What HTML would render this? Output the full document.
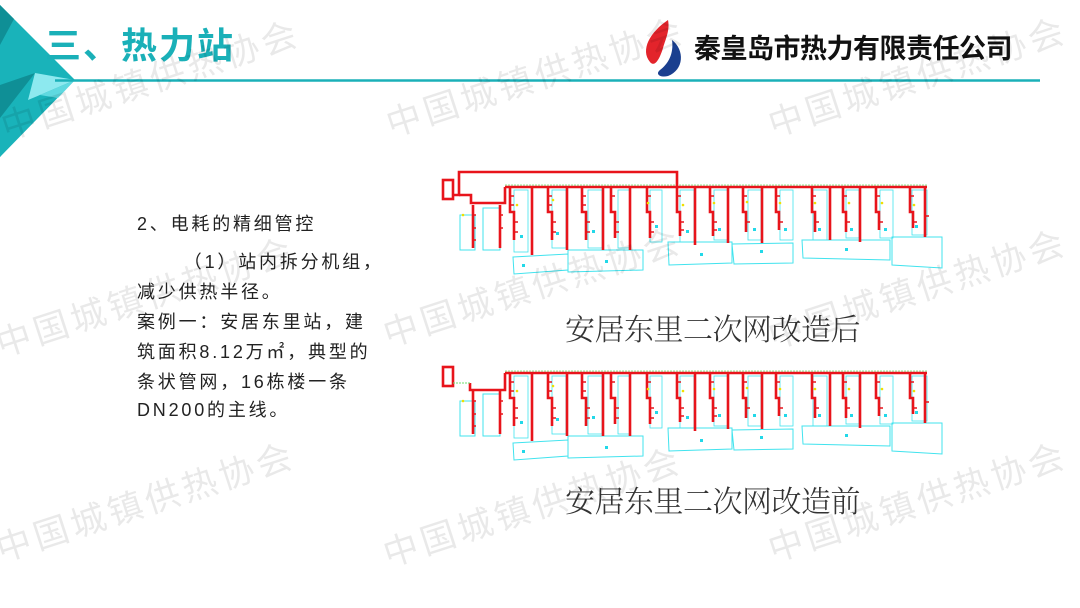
<!DOCTYPE html>
<html><head><meta charset="utf-8"><style>
body{margin:0;width:1080px;height:608px;overflow:hidden;background:#fff;position:relative;font-family:"Liberation Sans","Noto Sans CJK SC",sans-serif}
.wm{position:absolute;font-size:35px;color:rgba(0,0,0,0.085);white-space:nowrap;transform:translate(-50%,-50%) rotate(-18deg);letter-spacing:4px}
.t{position:absolute;left:137px;font-size:18px;color:#222;letter-spacing:2.8px;white-space:nowrap;line-height:20px}
.cap{position:absolute;font-family:"Noto Serif CJK SC",serif;font-weight:300;font-size:30px;color:#333;white-space:nowrap;letter-spacing:-0.5px}
</style></head><body>
<svg width="1080" height="608" style="position:absolute;left:0;top:0">
<polygon points="0,5 75,80 0,157" fill="#19b3ba"/>
<polygon points="0,5 14,19 0,45" fill="#0f8f96"/>
<polygon points="0,85 35,73 0,118" fill="#0f8f96"/>
<polygon points="35,73 75,80 40,95 28,100" fill="#8de9ef"/>
<polygon points="0,118 40,95 52,92 0,157" fill="#19b3ba"/>
<polygon points="40,95 75,80 58,98" fill="#5fd9e0"/>
<line x1="55" y1="80.5" x2="1040" y2="80.5" stroke="#1ab0b8" stroke-width="2.5"/>
<path d="M668,20 C650,32 640,50 650,62 C655,68 660,58 663,48 C666,38 670,30 668,20Z" fill="#e3242b"/>
<path d="M672,40 C685,50 684,70 668,76 C660,78 655,74 660,70 C668,64 674,54 672,40Z" fill="#1a3f8f"/>
<g id="net">
<g fill="none" stroke="#41e3ee" stroke-width="1">
<rect x="460" y="215" width="15" height="35"/><rect x="483" y="208" width="17" height="42"/>
<path d="M513,257 L568,254 L568,270 L514,274Z"/><path d="M568,250 L643,250 L643,270 L568,272Z"/>
<path d="M668,242 L732,242 L732,263 L669,265Z"/><path d="M732,244 L793,243 L793,263 L734,264Z"/>
<path d="M802,240 L890,240 L890,260 L803,258Z"/><path d="M892,237 L942,237 L942,268 L892,265Z"/>
</g>
<g fill="none" stroke="#41e3ee" stroke-width="0.8">
<rect x="514" y="190" width="14" height="62"/><rect x="552" y="190" width="14" height="58"/><rect x="588" y="190" width="14" height="58"/><rect x="618" y="190" width="12" height="58"/>
<rect x="650" y="190" width="12" height="52"/><rect x="680" y="190" width="14" height="52"/><rect x="714" y="190" width="14" height="50"/><rect x="748" y="190" width="13" height="50"/>
<rect x="780" y="190" width="13" height="50"/><rect x="813" y="190" width="14" height="50"/><rect x="846" y="190" width="13" height="48"/><rect x="880" y="190" width="13" height="48"/><rect x="912" y="190" width="15" height="45"/>
</g>
<g stroke="#e8141b" stroke-width="2.6" fill="none">
<line x1="505" y1="187" x2="927" y2="187"/>
<path d="M473,205 V248 M500,205 V248"/>
<path d="M532,187 V255 M567,187 V250 M603,187 V250 M630,187 V250 M695,187 V245 M728,187 V243 M762,187 V243 M830,187 V240 M860,187 V242 M925,187 V237"/>
<path d="M510,187 V212 H514 V240 M548,187 V212 H552 V240 M582,187 V212 H586 V240 M611,187 V212 H615 V238 M647,187 V212 H650 V238 M677,187 V212 H680 V236 M710,187 V212 H713 V236 M743,187 V212 H746 V232 M776,187 V212 H779 V230 M812,187 V212 H815 V232 M843,187 V212 H846 V232 M876,187 V212 H879 V230 M910,187 V212 H913 V228"/>
</g>
<g stroke="#e8141b" stroke-width="1.5">
<path d="M510,196h4M510,205h4M514,222h4M514,232h4M548,196h4M548,205h4M552,222h4M552,232h4M582,196h4M582,205h4M586,222h4M586,232h4M611,196h4M615,222h4M615,232h4M647,196h4M650,222h4M650,232h4M677,196h4M680,222h4M680,230h4M710,196h4M713,222h4M713,230h4M743,196h4M746,222h4M776,196h4M779,222h4M812,196h4M815,222h4M846,222h4M843,196h4M879,222h4M876,196h4M910,196h4M913,222h4M925,216h4M473,215h3M473,228h3M473,240h3M500,215h3M500,228h3"/>
</g>
<g fill="#22d8e8"><rect x="520" y="235" width="3" height="3"/><rect x="556" y="232" width="3" height="3"/><rect x="592" y="230" width="3" height="3"/><rect x="655" y="225" width="3" height="3"/><rect x="686" y="230" width="3" height="3"/><rect x="718" y="228" width="3" height="3"/><rect x="753" y="228" width="3" height="3"/><rect x="784" y="228" width="3" height="3"/><rect x="818" y="228" width="3" height="3"/><rect x="850" y="228" width="3" height="3"/><rect x="884" y="228" width="3" height="3"/><rect x="915" y="225" width="3" height="3"/><rect x="700" y="253" width="3" height="3"/><rect x="760" y="250" width="3" height="3"/><rect x="845" y="248" width="3" height="3"/><rect x="605" y="260" width="3" height="3"/><rect x="522" y="264" width="3" height="3"/></g>
<g fill="#f0e000"><circle cx="517" cy="205" r="1.3"/><circle cx="553" cy="200" r="1.3"/><circle cx="648" cy="203" r="1.3"/><circle cx="683" cy="205" r="1.3"/><circle cx="714" cy="203" r="1.3"/><circle cx="747" cy="202" r="1.3"/><circle cx="780" cy="203" r="1.3"/><circle cx="815" cy="203" r="1.3"/><circle cx="849" cy="203" r="1.3"/><circle cx="882" cy="203" r="1.3"/><circle cx="914" cy="205" r="1.3"/><circle cx="463" cy="215" r="1.3"/></g>
<line x1="505" y1="185" x2="927" y2="185" stroke="#6de06d" stroke-width="0.8" stroke-dasharray="2 1"/>
</g>
<g stroke="#e8141b" stroke-width="2.6" fill="none">
<rect x="443" y="180" width="10" height="19"/>
<path d="M453,195 H459 V172 H677 V186"/>
<path d="M459,195 H471 V203 H505 V187"/>
</g>
<use href="#net" transform="translate(0,186)"/>
<g stroke="#e8141b" stroke-width="2.6" fill="none">
<rect x="443" y="367" width="10" height="19"/>
<path d="M470,383 V390 H505 V373"/>
</g>
<line x1="453" y1="383" x2="470" y2="383" stroke="#6de06d" stroke-width="1" stroke-dasharray="2 1"/>
</svg>
<div style="position:absolute;left:45px;top:17px;font-size:36px;font-weight:bold;color:#1ab0b8;font-family:'Liberation Sans','Noto Sans CJK SC',sans-serif;letter-spacing:2px">三、热力站</div>
<div style="position:absolute;left:694px;top:27px;font-size:27px;font-weight:bold;color:#111;letter-spacing:-0.5px">秦皇岛市热力有限责任公司</div>
<div class="t" style="top:214px">2、电耗的精细管控</div>
<div class="t" style="top:252px">&nbsp;&nbsp;&nbsp;&nbsp;&nbsp;&nbsp;（1）站内拆分机组，</div>
<div class="t" style="top:282px">减少供热半径。</div>
<div class="t" style="top:312px">案例一：安居东里站，建</div>
<div class="t" style="top:342px">筑面积8.12万㎡，典型的</div>
<div class="t" style="top:372px">条状管网，16栋楼一条</div>
<div class="t" style="top:400px">DN200的主线。</div>
<div class="cap" style="left:565px;top:305px">安居东里二次网改造后</div>
<div class="cap" style="left:565px;top:477px">安居东里二次网改造前</div>
<div class="wm" style="left:150px;top:78px">中国城镇供热协会</div>
<div class="wm" style="left:535px;top:75px">中国城镇供热协会</div>
<div class="wm" style="left:917px;top:75px">中国城镇供热协会</div>
<div class="wm" style="left:145px;top:295px">中国城镇供热协会</div>
<div class="wm" style="left:532px;top:285px">中国城镇供热协会</div>
<div class="wm" style="left:917px;top:287px">中国城镇供热协会</div>
<div class="wm" style="left:145px;top:500px">中国城镇供热协会</div>
<div class="wm" style="left:532px;top:505px">中国城镇供热协会</div>
<div class="wm" style="left:917px;top:500px">中国城镇供热协会</div>
</body></html>
